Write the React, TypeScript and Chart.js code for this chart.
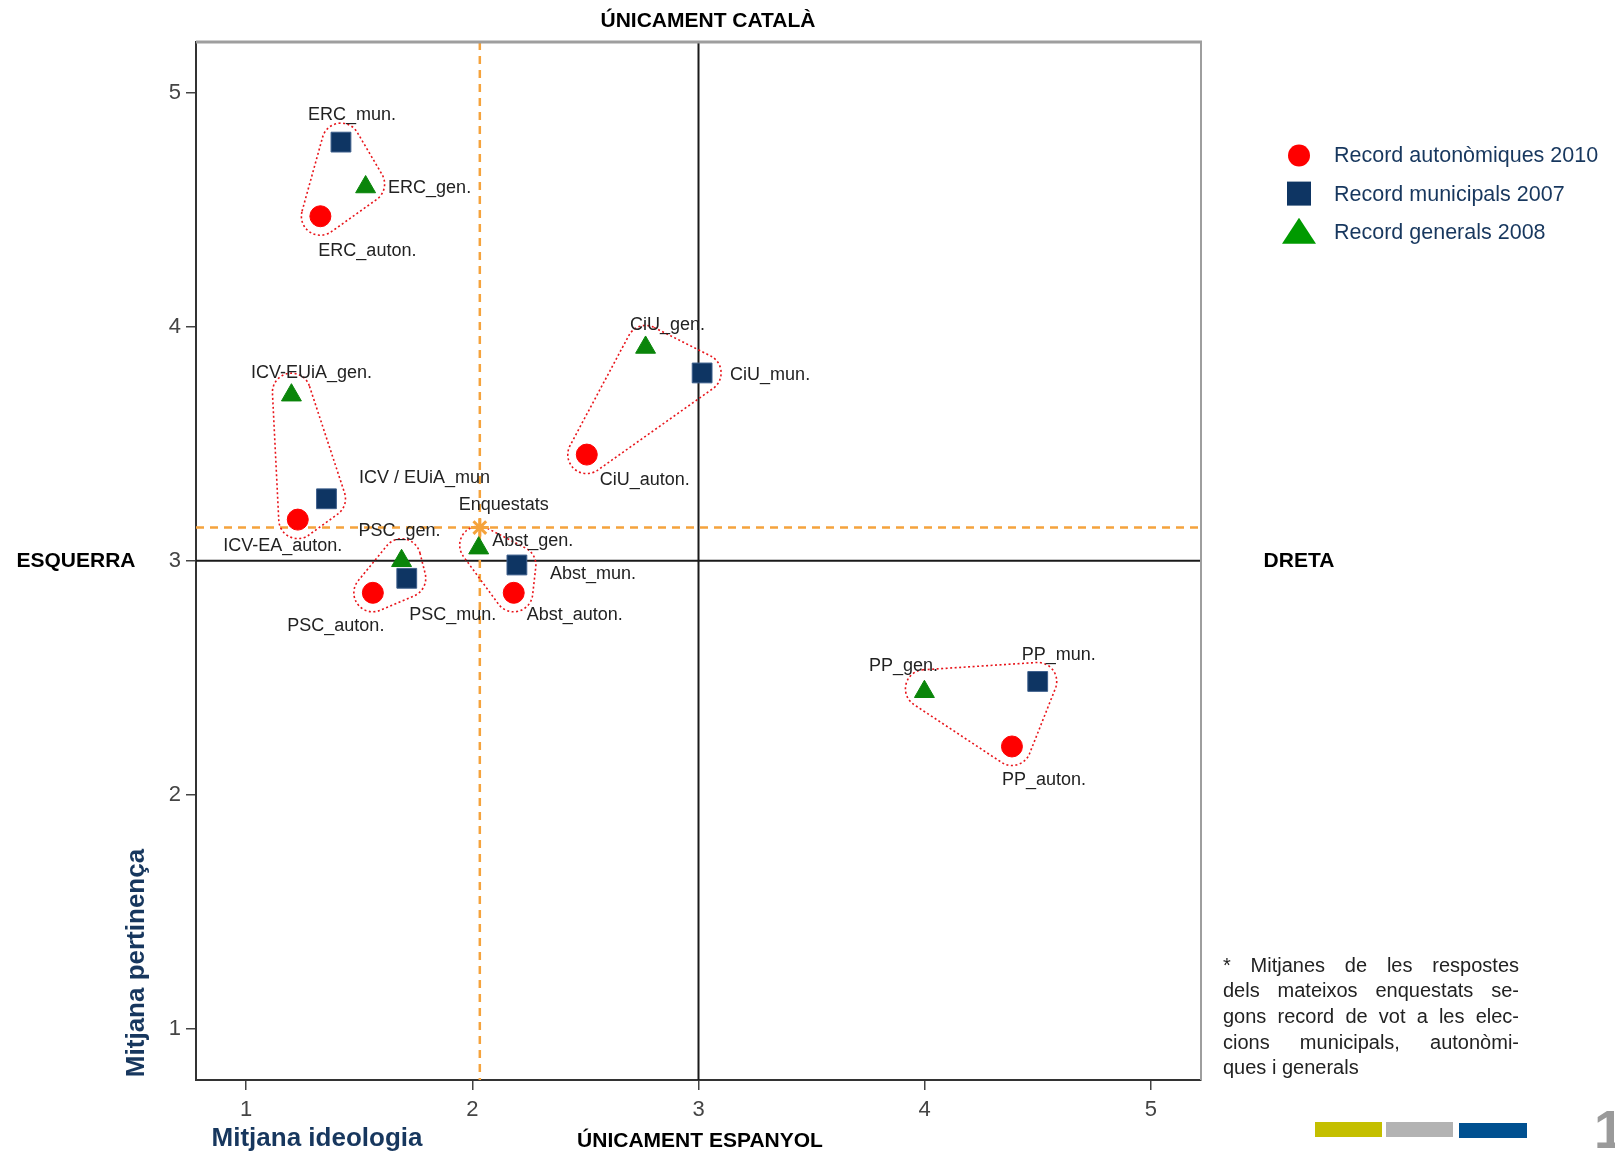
import React, { useEffect, useRef } from 'react';
import { Chart, registerables } from 'chart.js';

Chart.register(...registerables);

// ---------------- data ----------------
const GROUPS = ['ERC', 'CiU', 'ICV', 'PSC', 'Abst', 'PP'];

const AUTON_LABELS = ['ERC_auton.', 'CiU_auton.', 'ICV-EA_auton.', 'PSC_auton.', 'Abst_auton.', 'PP_auton.'];
const AUTON_X = [1.328, 2.506, 1.228, 1.56, 2.183, 4.386];
const AUTON_Y = [4.473, 3.454, 3.176, 2.863, 2.863, 2.206];

const MUN_LABELS = ['ERC_mun.', 'CiU_mun.', 'ICV / EUiA_mun', 'PSC_mun.', 'Abst_mun.', 'PP_mun.'];
const MUN_X = [1.419, 3.016, 1.355, 1.71, 2.197, 4.5];
const MUN_Y = [4.79, 3.803, 3.265, 2.925, 2.982, 2.484];

const GEN_LABELS = ['ERC_gen.', 'CiU_gen.', 'ICV-EUiA_gen.', 'PSC_gen.', 'Abst_gen.', 'PP_gen.'];
const GEN_X = [1.528, 2.766, 1.2, 1.687, 2.028, 3.999];
const GEN_Y = [4.598, 3.912, 3.708, 3.0, 3.054, 2.44];

const ENQ_LABEL = 'Enquestats';
const ENQ_X = 2.033;
const ENQ_Y = 3.142;

const SERIES_NAMES = ['Record autonòmiques 2010', 'Record municipals 2007', 'Record generals 2008'];

const X_TICKS = [1, 2, 3, 4, 5];
const Y_TICKS = [1, 2, 3, 4, 5];
const X_MIN = 0.778;
const X_MAX = 5.222;
const Y_MIN = 0.78;
const Y_MAX = 5.218;
const QUADRANT_X = 3;
const QUADRANT_Y = 3;

const TITLE_TOP = 'ÚNICAMENT CATALÀ';
const TITLE_BOTTOM = 'ÚNICAMENT ESPANYOL';
const TITLE_LEFT = 'ESQUERRA';
const TITLE_RIGHT = 'DRETA';
const X_TITLE = 'Mitjana ideologia';
const Y_TITLE = 'Mitjana pertinença';
const NOTE_LINES = [
  '* Mitjanes de les respostes',
  'dels mateixos enquestats se-',
  'gons record de vot a les elec-',
  'cions municipals, autonòmi-',
  'ques i generals',
];
const PAGE_NUMBER = '1';

// ---------------- label placement (px offsets from the point) ----------------
const AUTON_OFFSETS = [[47, 35], [58, 25], [-15, 26], [-37, 33], [61, 22], [32, 34]];
const MUN_OFFSETS = [[11, -27], [68, 2], [98, -21], [46, 37], [76, 9], [21, -26]];
const GEN_OFFSETS = [[64, 1], [22, -22], [20, -22], [-2, -30], [54, -7], [-21, -26]];
const ENQ_OFFSET = [24, -23];

// ---------------- styles ----------------
const W = 1615;
const H = 1155;
const FONT = '"Liberation Sans", Arial, sans-serif';
const RED = '#FF0000';
const NAVY = '#0E3563';
const GREEN = '#0A850A';
const LEGEND_GREEN = '#009A00';
const ORANGE = '#F5A33C';
const DARK_BLUE_TEXT = '#17375E';

function pts(xs: number[], ys: number[]) {
  return xs.map((x, i) => ({ x, y: ys[i] }));
}

function roundedHull(ctx: CanvasRenderingContext2D, p: { x: number; y: number }[], r: number) {
  let area = 0;
  for (let i = 0; i < p.length; i++) {
    const a = p[i], b = p[(i + 1) % p.length];
    area += a.x * b.y - b.x * a.y;
  }
  const q = area < 0 ? p.slice().reverse() : p.slice();
  const n = q.length;
  const normal = (a: any, b: any) => {
    const dx = b.x - a.x, dy = b.y - a.y;
    const l = Math.hypot(dx, dy) || 1;
    return { x: dy / l, y: -dx / l };
  };
  ctx.beginPath();
  for (let i = 0; i < n; i++) {
    const a = q[i], b = q[(i + 1) % n], c = q[(i + 2) % n];
    const n1 = normal(a, b), n2 = normal(b, c);
    if (i === 0) ctx.moveTo(a.x + n1.x * r, a.y + n1.y * r);
    ctx.lineTo(b.x + n1.x * r, b.y + n1.y * r);
    ctx.arc(b.x, b.y, r, Math.atan2(n1.y, n1.x), Math.atan2(n2.y, n2.x), false);
  }
  ctx.closePath();
}

const decorPlugin = {
  id: 'decor',
  beforeDatasetsDraw(chart: any) {
    const { ctx, chartArea: ca, scales } = chart;
    const xs = scales.x, ys = scales.y;
    ctx.save();
    ctx.beginPath();
    ctx.rect(ca.left, ca.top, ca.right - ca.left, ca.bottom - ca.top);
    ctx.clip();
    // quadrant lines
    ctx.strokeStyle = '#1a1a1a';
    ctx.lineWidth = 2;
    const qx = xs.getPixelForValue(QUADRANT_X);
    const qy = ys.getPixelForValue(QUADRANT_Y);
    ctx.beginPath();
    ctx.moveTo(qx, ca.top); ctx.lineTo(qx, ca.bottom);
    ctx.moveTo(ca.left, qy); ctx.lineTo(ca.right, qy);
    ctx.stroke();
    // mean lines
    ctx.strokeStyle = ORANGE;
    ctx.lineWidth = 2.5;
    ctx.setLineDash([8, 6]);
    const ex = xs.getPixelForValue(ENQ_X);
    const ey = ys.getPixelForValue(ENQ_Y);
    ctx.beginPath();
    ctx.moveTo(ex, ca.top); ctx.lineTo(ex, ca.bottom);
    ctx.moveTo(ca.left, ey); ctx.lineTo(ca.right, ey);
    ctx.stroke();
    // group loops
    ctx.strokeStyle = '#E8141A';
    ctx.lineWidth = 1.6;
    ctx.setLineDash([2, 2.5]);
    GROUPS.forEach((_, i) => {
      const p = [
        { x: xs.getPixelForValue(AUTON_X[i]), y: ys.getPixelForValue(AUTON_Y[i]) },
        { x: xs.getPixelForValue(MUN_X[i]), y: ys.getPixelForValue(MUN_Y[i]) },
        { x: xs.getPixelForValue(GEN_X[i]), y: ys.getPixelForValue(GEN_Y[i]) - 3 },
      ];
      roundedHull(ctx, p, 19);
      ctx.stroke();
    });
    ctx.restore();
  },
  afterDatasetsDraw(chart: any) {
    const { ctx } = chart;
    ctx.save();
    ctx.font = `18px ${FONT}`;
    ctx.fillStyle = '#222';
    ctx.textAlign = 'center';
    ctx.textBaseline = 'middle';
    chart.data.datasets.forEach((ds: any, di: number) => {
      const meta = chart.getDatasetMeta(di);
      meta.data.forEach((el: any, i: number) => {
        const off = ds.labelOffsets[i];
        ctx.fillText(ds.pointLabels[i], el.x + off[0], el.y + off[1]);
      });
    });
    ctx.restore();
  },
  afterDraw(chart: any) {
    const { ctx, chartArea: ca } = chart;
    ctx.save();
    // top & right frame
    ctx.strokeStyle = '#9E9E9E';
    ctx.lineWidth = 3;
    ctx.beginPath();
    ctx.moveTo(ca.left, ca.top); ctx.lineTo(ca.right + 1, ca.top);
    ctx.stroke();
    ctx.lineWidth = 2;
    ctx.beginPath();
    ctx.moveTo(ca.right, ca.top); ctx.lineTo(ca.right, ca.bottom);
    ctx.stroke();

    // quadrant titles
    ctx.fillStyle = '#000';
    ctx.textAlign = 'center';
    ctx.textBaseline = 'middle';
    ctx.font = `bold 21px ${FONT}`;
    ctx.fillText(TITLE_TOP, 708, 21);
    ctx.fillText(TITLE_BOTTOM, 700, 1141);
    ctx.fillText(TITLE_LEFT, 76, 561);
    ctx.fillText(TITLE_RIGHT, 1299, 561);

    // axis titles
    ctx.fillStyle = DARK_BLUE_TEXT;
    ctx.font = `bold 26px ${FONT}`;
    ctx.fillText(X_TITLE, 317, 1139);
    ctx.save();
    ctx.translate(137, 963);
    ctx.rotate(-Math.PI / 2);
    ctx.fillText(Y_TITLE, 0, 0);
    ctx.restore();

    // legend
    const lx = 1299;
    const rows = [155.5, 193.6, 231.8];
    ctx.fillStyle = RED;
    ctx.beginPath(); ctx.arc(lx, rows[0], 11, 0, Math.PI * 2); ctx.fill();
    ctx.fillStyle = NAVY;
    ctx.fillRect(lx - 12, rows[1] - 12, 24, 24);
    ctx.fillStyle = LEGEND_GREEN;
    ctx.beginPath();
    ctx.moveTo(lx, rows[2] - 14); ctx.lineTo(lx + 17, rows[2] + 12); ctx.lineTo(lx - 17, rows[2] + 12);
    ctx.closePath(); ctx.fill();
    ctx.fillStyle = DARK_BLUE_TEXT;
    ctx.font = `21.5px ${FONT}`;
    ctx.textAlign = 'left';
    SERIES_NAMES.forEach((s, i) => ctx.fillText(s, 1334, rows[i] + 1));

    // footnote, justified
    ctx.fillStyle = '#222';
    ctx.font = `20px ${FONT}`;
    const x0 = 1223, x1 = 1519;
    NOTE_LINES.forEach((line, li) => {
      const y = 966 + li * 25.7;
      const words = line.split(' ');
      if (li === NOTE_LINES.length - 1 || words.length < 2) {
        ctx.fillText(line, x0, y);
        return;
      }
      const widths = words.map((w) => ctx.measureText(w).width);
      const total = widths.reduce((a, b) => a + b, 0);
      const gap = (x1 - x0 - total) / (words.length - 1);
      let x = x0;
      words.forEach((w, i) => { ctx.fillText(w, x, y); x += widths[i] + gap; });
    });

    // decorative bars
    ctx.fillStyle = '#C4BF00'; ctx.fillRect(1315, 1122, 67, 15);
    ctx.fillStyle = '#B3B3B3'; ctx.fillRect(1386, 1122, 67, 15);
    ctx.fillStyle = '#005090'; ctx.fillRect(1459, 1123, 68, 15);
    ctx.fillStyle = '#9A9A9A';
    ctx.font = `bold 54px ${FONT}`;
    ctx.fillText(PAGE_NUMBER, 1594, 1133);
    ctx.restore();
  },
};

export default function App() {
  const ref = useRef<HTMLCanvasElement>(null);
  useEffect(() => {
    const canvas = ref.current!;
    const chart = new Chart(canvas, {
      type: 'scatter',
      data: {
        datasets: [
          {
            label: SERIES_NAMES[0],
            data: pts(AUTON_X, AUTON_Y),
            pointStyle: 'circle',
            pointRadius: 10.5,
            backgroundColor: RED,
            borderColor: RED,
            borderWidth: 1,
            pointLabels: AUTON_LABELS,
            labelOffsets: AUTON_OFFSETS,
          } as any,
          {
            label: SERIES_NAMES[1],
            data: pts(MUN_X, MUN_Y),
            pointStyle: 'rect',
            pointRadius: 14,
            backgroundColor: NAVY,
            borderColor: '#3D5F8C',
            borderWidth: 1,
            pointLabels: MUN_LABELS,
            labelOffsets: MUN_OFFSETS,
          } as any,
          {
            label: SERIES_NAMES[2],
            data: pts(GEN_X, GEN_Y),
            pointStyle: 'triangle',
            pointRadius: 11.5,
            backgroundColor: GREEN,
            borderColor: GREEN,
            borderWidth: 1,
            pointLabels: GEN_LABELS,
            labelOffsets: GEN_OFFSETS,
          } as any,
          {
            label: ENQ_LABEL,
            data: [{ x: ENQ_X, y: ENQ_Y }],
            pointStyle: 'star',
            pointRadius: 9,
            backgroundColor: ORANGE,
            borderColor: ORANGE,
            borderWidth: 3,
            pointLabels: [ENQ_LABEL],
            labelOffsets: [ENQ_OFFSET],
          } as any,
        ],
      },
      options: {
        responsive: false,
        animation: false,
        devicePixelRatio: 1,
        layout: { padding: { left: 0, top: 42, right: 414, bottom: 0 } },
        plugins: { legend: { display: false }, tooltip: { enabled: false } },
        scales: {
          x: {
            type: 'linear',
            min: X_MIN,
            max: X_MAX,
            afterBuildTicks: (s: any) => { s.ticks = X_TICKS.map((v) => ({ value: v })); },
            afterFit: (s: any) => { s.height = 75; },
            ticks: { font: { family: FONT, size: 22 }, color: '#444', padding: 7 },
            grid: { drawOnChartArea: false, drawTicks: true, tickLength: 10, color: '#444', lineWidth: 1.5 },
            border: { display: true, color: '#333', width: 2 },
          },
          y: {
            type: 'linear',
            min: Y_MIN,
            max: Y_MAX,
            afterBuildTicks: (s: any) => { s.ticks = Y_TICKS.map((v) => ({ value: v })); },
            afterFit: (s: any) => { s.width = 196; },
            ticks: { font: { family: FONT, size: 22 }, color: '#444', padding: 5 },
            grid: { drawOnChartArea: false, drawTicks: true, tickLength: 10, color: '#444', lineWidth: 1.5 },
            border: { display: true, color: '#333', width: 2 },
          },
        },
      },
      plugins: [decorPlugin],
    } as any);
    return () => chart.destroy();
  }, []);
  return (
    <div style={{ position: 'fixed', left: 0, top: 0, width: W, height: H, background: '#fff' }}>
      <canvas ref={ref} width={W} height={H} style={{ width: W, height: H, display: 'block' }} />
    </div>
  );
}
